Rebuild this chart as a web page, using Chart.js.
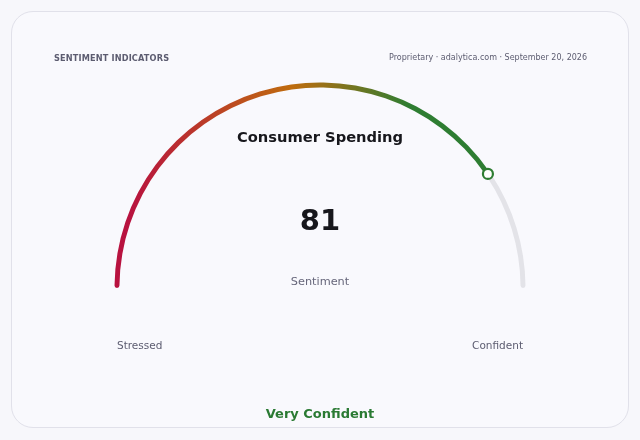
<!DOCTYPE html>
<html>
<head>
<meta charset="utf-8">
<script src="https://cdn.jsdelivr.net/npm/chart.js@4"></script>
<style>
  html, body { margin:0; padding:0; background:#f7f7fb; }
  body { width:640px; height:440px; position:relative; overflow:hidden; font-family:"DejaVu Sans", sans-serif; }
  #card { position:absolute; left:11px; top:11px; width:616px; height:415px; border:1px solid #e1e1ea; border-radius:22px; background:#f9f9fd; }
  #wrap { position:absolute; left:0; top:0; width:640px; height:440px; }
  .t { position:absolute; white-space:nowrap; }
  #hdrL { left:54px; top:53px; font-size:8.2px; font-weight:bold; color:#5c5c70; letter-spacing:0.15px; }
  #hdrR { right:53px; top:53px; font-size:8px; color:#5c5c70; }
  #title { left:0; width:640px; text-align:center; top:128px; font-size:14.7px; font-weight:bold; color:#17171c; }
  #val { left:0; width:640px; text-align:center; top:203px; font-size:29px; font-weight:bold; color:#17171c; }
  #unit { left:0; width:640px; text-align:center; top:275px; font-size:11.3px; color:#66667a; }
  #lo { left:117px; top:339px; font-size:10.5px; color:#5c5c70; }
  #hi { right:117px; top:339px; font-size:10.5px; color:#5c5c70; }
  #status { left:0; width:640px; text-align:center; top:406px; font-size:13px; font-weight:bold; color:#2a7a33; }
</style>
</head>
<body>
<div id="card"></div>
<div id="wrap"><canvas id="c" width="640" height="440"></canvas></div>
<div class="t" id="hdrL"></div>
<div class="t" id="hdrR"></div>
<div class="t" id="title"></div>
<div class="t" id="val"></div>
<div class="t" id="unit"></div>
<div class="t" id="lo"></div>
<div class="t" id="hi"></div>
<div class="t" id="status"></div>
<script>
const headerLeft = "SENTIMENT INDICATORS";
const headerRight = "Proprietary · adalytica.com · September 20, 2026";
const gaugeTitle = "Consumer Spending";
const gaugeUnit = "Sentiment";
const gaugeMin = 0;
const gaugeMax = 100;
const gaugeValue = 81;
const rangeLabels = ["Stressed", "Confident"];
const statusLabel = "Very Confident";
const gradientColors = ["#b8123f", "#bf6c0e", "#2e7d32"];
const gradientStops = [0.03, 0.43, 0.72];
const trackColor = "#e3e3e8";
const markerColor = "#2e7d32";
const arcThickness = 5;

document.getElementById('hdrL').textContent = headerLeft;
document.getElementById('hdrR').textContent = headerRight;
document.getElementById('title').textContent = gaugeTitle;
document.getElementById('val').textContent = String(gaugeValue);
document.getElementById('unit').textContent = gaugeUnit;
document.getElementById('lo').textContent = rangeLabels[0];
document.getElementById('hi').textContent = rangeLabels[1];
document.getElementById('status').textContent = statusLabel;

function segmentColor(ctx) {
  if (ctx.dataIndex === 1) return trackColor;
  const chart = ctx.chart;
  const area = chart.chartArea;
  if (!area) return gradientColors[2];
  const cx = (area.left + area.right) / 2;
  const rMid = (area.right - area.left) / 2 - arcThickness / 2;
  const g = chart.ctx.createLinearGradient(cx - rMid, 0, cx + rMid, 0);
  gradientColors.forEach((col, i) => g.addColorStop(gradientStops[i], col));
  return g;
}

const markerPlugin = {
  id: 'marker',
  afterDatasetsDraw(chart) {
    const arc = chart.getDatasetMeta(0).data[0];
    if (!arc) return;
    const r = (arc.outerRadius + arc.innerRadius) / 2;
    const x = arc.x + r * Math.cos(arc.endAngle);
    const y = arc.y + r * Math.sin(arc.endAngle);
    const c = chart.ctx;
    c.save();
    c.beginPath();
    c.arc(x, y, 5, 0, Math.PI * 2);
    c.fillStyle = '#ffffff';
    c.fill();
    c.lineWidth = 2.2;
    c.strokeStyle = markerColor;
    c.stroke();
    c.restore();
  }
};

new Chart(document.getElementById('c'), {
  type: 'doughnut',
  data: {
    labels: ['value', 'rest'],
    datasets: [{
      data: [gaugeValue - gaugeMin, gaugeMax - gaugeValue],
      backgroundColor: segmentColor,
      borderWidth: 0,
      borderRadius: 3,
      hoverOffset: 0
    }]
  },
  options: {
    responsive: false,
    animation: false,
    devicePixelRatio: 1,
    rotation: -90,
    circumference: 180,
    cutout: '97.6%',
    layout: { padding: { left: 114.5, right: 114.5, top: 82.5, bottom: 152 } },
    plugins: { legend: { display: false }, tooltip: { enabled: false } },
    events: []
  },
  plugins: [markerPlugin]
});
</script>
</body>
</html>
